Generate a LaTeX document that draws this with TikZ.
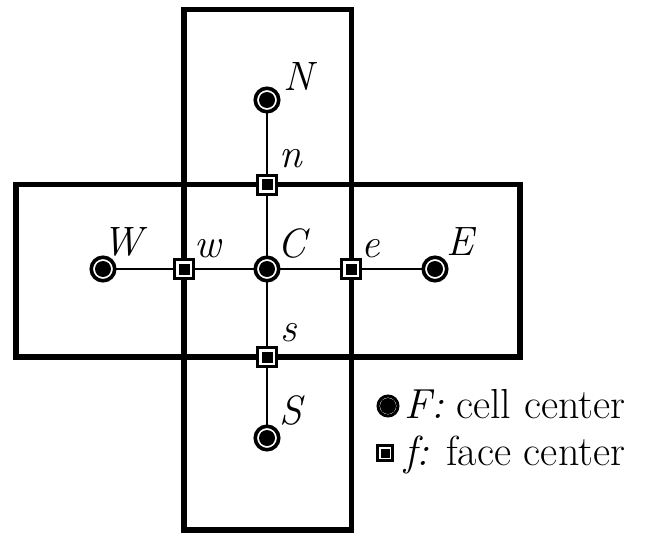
\documentclass[tikz,border=0pt]{standalone}
\begin{document}
\begin{tikzpicture}[x=1pt,y=-1pt,
  cellc/.style={circle,draw,line width=3.6pt,inner sep=0pt,minimum size=23.5pt,fill=white,
    path picture={\fill[black] (path picture bounding box.center) circle (8pt);}},
  facec/.style={rectangle,draw,line width=3pt,inner sep=0pt,minimum size=19pt,fill=white,
    path picture={\fill[black] ([xshift=-5.5pt,yshift=-5.5pt]path picture bounding box.center) rectangle ([xshift=5.5pt,yshift=5.5pt]path picture bounding box.center);}},
  cellbox/.style={line width=5.5pt},
  conn/.style={line width=1.3pt},
  lbl/.style={font=\fontsize{41}{48}\selectfont\itshape,inner sep=0pt,anchor=base},
  leg/.style={font=\fontsize{42}{48}\selectfont,inner sep=0pt,anchor=base west}]
\useasboundingbox (0,0) rectangle (661,535);
% cells
\draw[cellbox] (184,9.5) rectangle (351.5,530);
\draw[cellbox] (16,184.5) rectangle (520,357);
% node positions
\coordinate (pN) at (267,100);
\coordinate (pS) at (267,438);
\coordinate (pW) at (103,269);
\coordinate (pE) at (435,269);
\coordinate (pC) at (267,269);
\coordinate (pn) at (267,184.5);
\coordinate (ps) at (267,357);
\coordinate (pw) at (184,269);
\coordinate (pe) at (351,269);
\draw[conn] (pN) -- (pn) -- (pC) -- (ps) -- (pS);
\draw[conn] (pW) -- (pw) -- (pC) -- (pe) -- (pE);
\node[cellc] (N) at (pN) {};
\node[cellc] (S) at (pS) {};
\node[cellc] (W) at (pW) {};
\node[cellc] (E) at (pE) {};
\node[cellc] (C) at (pC) {};
\node[facec] (n) at (pn) {};
\node[facec] (s) at (ps) {};
\node[facec] (w) at (pw) {};
\node[facec] (e) at (pe) {};
% labels
\node[lbl] (lN) at (298,90) {N};
\node[lbl] (ln) at (291,167) {n};
\node[lbl] (lC) at (292,257) {C};
\node[lbl] (lW) at (123,255) {W};
\node[lbl] (lw) at (208,257) {w};
\node[lbl] (le) at (371,257) {e};
\node[lbl] (lE) at (460,255) {E};
\node[lbl] (ls) at (289,341) {s};
\node[lbl] (lS) at (291,424) {S};
% legend
\node[cellc,minimum size=20pt,line width=3pt] (legC) at (388,406) {};
\node[facec,minimum size=15pt,line width=2.5pt,
  path picture={\fill[black] ([xshift=-4.5pt,yshift=-4.5pt]path picture bounding box.center) rectangle ([xshift=4.5pt,yshift=4.5pt]path picture bounding box.center);}] (legf) at (385,453) {};
\node[leg] (legCt) at (404,418) {\textit{F:} cell center};
\node[leg] (legft) at (404,465) {\textit{f:} face center};
\end{tikzpicture}
\end{document}
